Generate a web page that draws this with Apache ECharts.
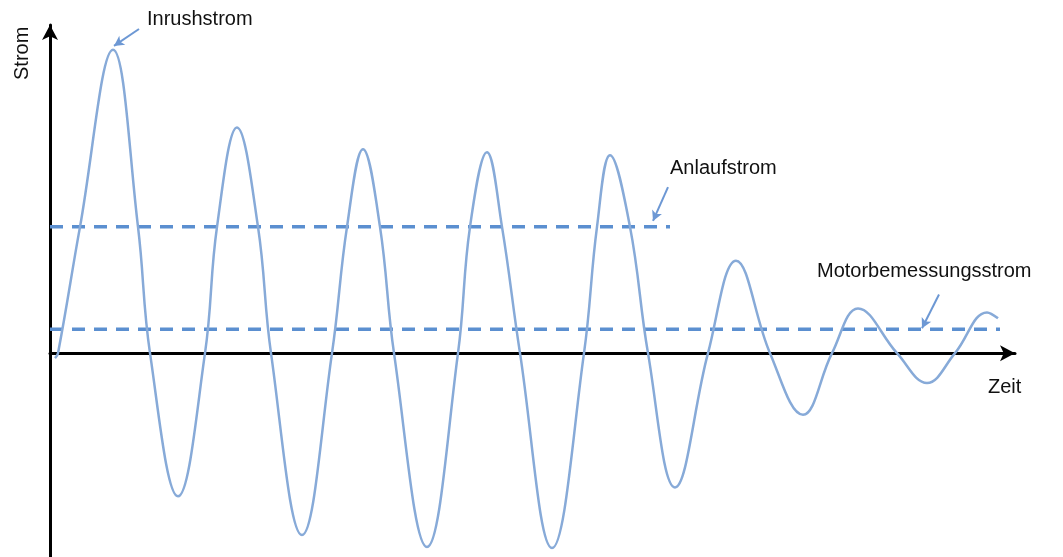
<!DOCTYPE html>
<html>
<head>
<meta charset="utf-8">
<script src="https://cdn.jsdelivr.net/npm/echarts@6/dist/echarts.min.js"></script>
<style>html,body{margin:0;padding:0;background:#fff}#c{width:1063px;height:557px}</style>
</head>
<body>
<div id="c"></div>
<script>
// Time (arbitrary units) and current values
var timeValues = [
  0.5, 0.8, 3.0, 6.3, 8.8, 10.0, 12.8,
  15.5, 16.7, 18.7, 20.8, 22.1, 25.2,
  28.2, 29.7, 31.3, 33.0, 34.4, 37.7,
  40.8, 42.0, 43.7, 45.2, 47.0, 50.2,
  53.4, 54.7, 56.0, 58.0, 59.8, 62.5,
  65.8, 68.6, 72.0, 75.3, 78.2, 80.8,
  84.7, 87.7, 90.5, 93.7, 94.8
];
var currentValues = [
  -0.5, 0, 12.7, 30.5, 12.7, 0, -14.4,
  0, 12.7, 22.7, 12.7, 0, -18.3,
  0, 12.7, 20.5, 12.7, 0, -19.5,
  0, 12.7, 20.2, 12.7, 0, -19.6,
  0, 12.7, 19.9, 12.7, 0, -13.5,
  0, 9.3, 0, -6.2, 0, 4.5,
  0, -3.0, 0, 4.1, 3.5
];
var anlaufLevel = 12.7, anlaufEnd = 62.0;
var motorLevel = 2.4, motorEnd = 95.0;
var labels = ['Inrushstrom', 'Anlaufstrom', 'Motorbemessungsstrom'];
var axisNames = ['Zeit', 'Strom'];
// annotation arrows: [fromT, fromY, toT, toY]
var arrows = [[8.9, 32.6, 6.4, 30.9], [61.8, 16.7, 60.3, 13.3], [88.9, 5.9, 87.2, 2.5]];

var pts = timeValues.map(function (t, i) { return [t, currentValues[i]]; });
var arrowData = arrows.map(function (a) {
  return [{ coord: [a[0], a[1]], symbol: 'none' }, { coord: [a[2], a[3]], symbol: 'arrow' }];
});

var chart = echarts.init(document.getElementById('c'), null, { renderer: 'canvas' });
var font = 'Liberation Sans, Arial, sans-serif';
chart.setOption({
  animation: false,
  backgroundColor: '#ffffff',
  grid: { left: 50, top: 25, width: 965, height: 535 },
  xAxis: {
    type: 'value', min: 0, max: 96.5,
    axisLine: { onZero: true, symbol: ['none', 'arrow'], symbolSize: [12, 15], lineStyle: { color: '#000', width: 3 } },
    axisTick: { show: false }, axisLabel: { show: false }, splitLine: { show: false }
  },
  yAxis: {
    type: 'value', min: -20.5, max: 33,
    axisLine: { show: true, onZero: false, symbol: ['none', 'arrow'], symbolSize: [12, 15], lineStyle: { color: '#000', width: 3 } },
    axisTick: { show: false }, axisLabel: { show: false }, splitLine: { show: false }
  },
  series: [
    {
      type: 'line', data: [[0, anlaufLevel], [anlaufEnd, anlaufLevel]], symbol: 'none',
      lineStyle: { color: '#5b8fd0', width: 3.5, type: [13, 9] }, z: 2
    },
    {
      type: 'line', data: [[0, motorLevel], [motorEnd, motorLevel]], symbol: 'none',
      lineStyle: { color: '#5b8fd0', width: 3.5, type: [13, 9] }, z: 2
    },
    {
      type: 'line', data: pts, symbol: 'none', smooth: 0.4,
      lineStyle: { color: '#87aad8', width: 2.5 }, z: 3,
      markLine: {
        silent: true, animation: false, symbolSize: [8, 10],
        label: { show: false },
        lineStyle: { color: '#6d98d4', width: 2, type: 'solid' },
        data: arrowData
      }
    }
  ],
  graphic: [
    { type: 'text', left: 147, top: 9, style: { text: labels[0], font: '20px ' + font, fill: '#111' } },
    { type: 'text', left: 670, top: 158, style: { text: labels[1], font: '20px ' + font, fill: '#111' } },
    { type: 'text', left: 817, top: 261, style: { text: labels[2], font: '20px ' + font, fill: '#111' } },
    { type: 'text', left: 988, top: 377, style: { text: axisNames[0], font: '20px ' + font, fill: '#111' } },
    { type: 'text', x: 12, y: 80, rotation: Math.PI / 2, style: { text: axisNames[1], font: '20px ' + font, fill: '#111' } }
  ]
});
</script>
</body>
</html>
